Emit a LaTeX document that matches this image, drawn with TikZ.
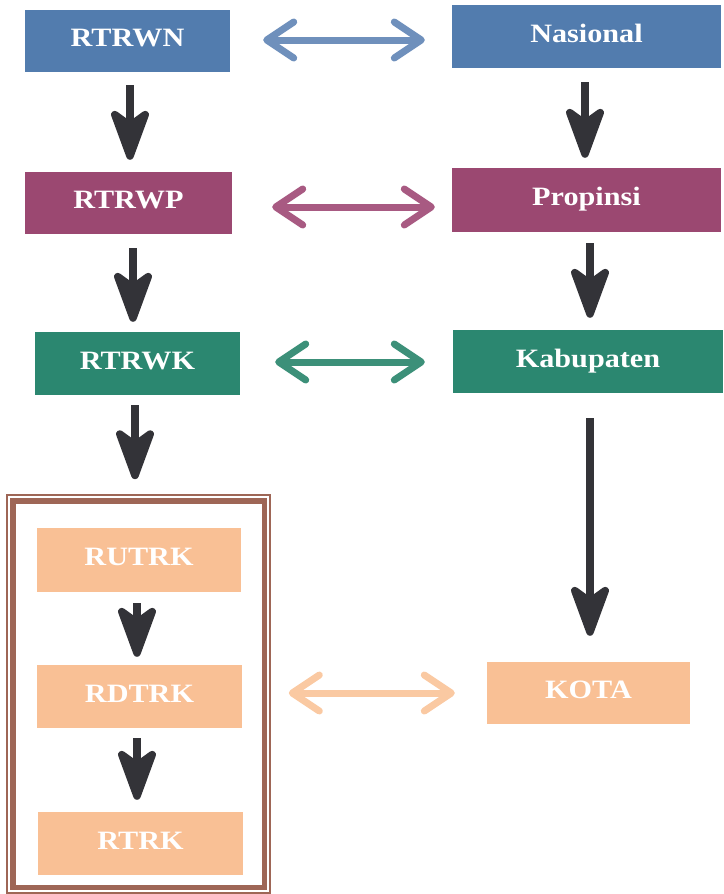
\documentclass[tikz,border=0pt]{standalone}
\usepackage{fontspec}
\setmainfont[FakeStretch=1.14]{Liberation Serif}
\usetikzlibrary{arrows.meta}
\definecolor{nblue}{HTML}{527CAE}
\definecolor{nbluearr}{HTML}{6F90BC}
\definecolor{pmag}{HTML}{9B4871}
\definecolor{pmagarr}{HTML}{A85A82}
\definecolor{kgreen}{HTML}{2B8770}
\definecolor{kgreenarr}{HTML}{3C9079}
\definecolor{peach}{HTML}{F9C095}
\definecolor{peacharr}{HTML}{FAC9A2}
\definecolor{framebrown}{HTML}{9E6656}
\definecolor{darkarr}{HTML}{333338}
\tikzset{
  box/.style={rectangle, inner sep=0pt, text=white, text height=18pt, text depth=7pt,
    font=\fontsize{26.5}{26.5}\selectfont\bfseries},
  downarr/.style={draw=darkarr, line width=7.5pt,
    -{Stealth[round, length=62pt, width=45pt, inset=16pt]}},
  twoway/.style={line width=7pt,
    {Straight Barb[round, length=27pt, width=36pt]}-{Straight Barb[round, length=27pt, width=36pt]}},
}
\begin{document}
\begin{tikzpicture}[x=1pt, y=-1pt]
\useasboundingbox (0,0) rectangle (723,894);

% national level
\node[box, fill=nblue, minimum width=205pt, minimum height=62pt] (rtrwn) at (127.5,41) {RTRWN};
\node[box, fill=nblue, minimum width=269pt, minimum height=63pt] (nas) at (586.5,36.5) {Nasional};
% provincial level
\node[box, fill=pmag, minimum width=207pt, minimum height=62pt] (rtrwp) at (128.5,203) {RTRWP};
\node[box, fill=pmag, minimum width=269pt, minimum height=64pt] (prop) at (586.5,200) {Propinsi};
% regency level
\node[box, fill=kgreen, minimum width=205pt, minimum height=63pt] (rtrwk) at (137.5,363.5) {RTRWK};
\node[box, fill=kgreen, minimum width=270pt, minimum height=63pt] (kab) at (588,361.5) {Kabupaten};
% city level
\node[box, fill=peach, minimum width=204pt, minimum height=64pt] (rutrk) at (139,560) {RUTRK};
\node[box, fill=peach, minimum width=205pt, minimum height=63pt] (rdtrk) at (139.5,696.5) {RDTRK};
\node[box, fill=peach, minimum width=205pt, minimum height=63pt] (rtrk) at (140.5,843.5) {RTRK};
\node[box, fill=peach, minimum width=203pt, minimum height=62pt] (kota) at (588.5,693) {KOTA};

% frame around the city plans
\node[draw=framebrown, line width=1.6pt, rectangle, minimum width=263pt, minimum height=398pt] (frame) at (138.5,694) {};
\draw[framebrown, line width=5.5pt] ([shift={(7pt,-7pt)}]frame.north west) rectangle ([shift={(-6.5pt,6.5pt)}]frame.south east);

% downward flow
\draw[downarr, shorten <=13pt, shorten >=12pt] (rtrwn.south -| 130,0) -- (rtrwp.north -| 130,0);
\draw[downarr, shorten <=14pt, shorten >=10pt] (rtrwp.south -| 133,0) -- (rtrwk.north -| 133,0);
\draw[downarr, shorten <=10pt, shorten >=15pt] (rtrwk.south -| 135,0) -- (frame.north -| 135,0);
\draw[downarr, shorten <=11pt, shorten >=8pt] (rutrk.south -| 137,0) -- (rdtrk.north -| 137,0);
\draw[downarr, shorten <=10pt, shorten >=12pt] (rdtrk.south -| 137,0) -- (rtrk.north -| 137,0);
\draw[downarr, shorten <=14pt, shorten >=10pt] (nas.south -| 585,0) -- (prop.north -| 585,0);
\draw[downarr, shorten <=11pt, shorten >=12pt] (prop.south -| 590,0) -- (kab.north -| 590,0);
\draw[downarr, shorten <=25pt, shorten >=26pt] (kab.south -| 590,0) -- (kota.north -| 590,0);

% two-way links
\draw[twoway, nbluearr, shorten <=33pt, shorten >=27pt] (rtrwn.east |- 0,40) -- (nas.west |- 0,40);
\draw[twoway, pmagarr, shorten <=40pt, shorten >=17pt] (rtrwp.east |- 0,207) -- (prop.west |- 0,207);
\draw[twoway, kgreenarr, shorten <=35pt, shorten >=28pt] (rtrwk.east |- 0,362) -- (kab.west |- 0,362);
\draw[twoway, peacharr, shorten <=18pt, shorten >=32pt] (frame.east |- 0,693) -- (kota.west |- 0,693);
\end{tikzpicture}
\end{document}
